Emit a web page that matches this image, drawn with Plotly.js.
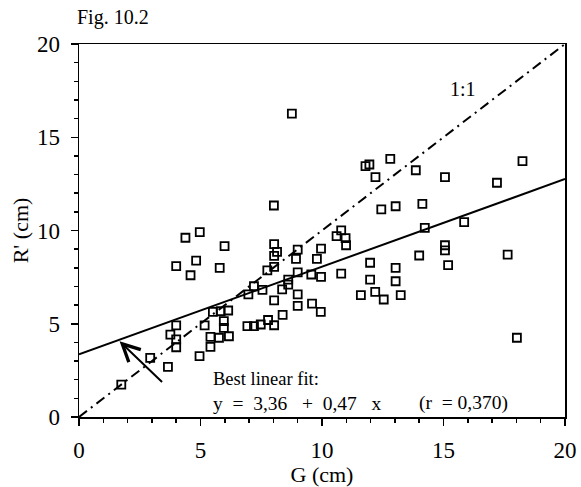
<!DOCTYPE html>
<html><head><meta charset="utf-8">
<script src="https://cdn.plot.ly/plotly-3.0.1.min.js"></script>
<style>html,body{margin:0;padding:0;background:#fff}</style>
</head><body><div id="chart" style="width:581px;height:487px"></div>
<script>
// Observed points: G (cm) vs R' (cm)
const G = [1.74, 2.93, 3.66, 3.76, 4.0, 4.0, 4.0, 4.96, 5.17, 5.41, 5.76, 6.17, 5.41, 5.51, 5.83, 6.14, 5.96, 5.96,
  4.38, 4.97, 5.99, 4.0, 4.82, 4.59, 5.79,
  6.93, 7.2, 7.48, 7.78, 8.03, 8.38, 6.97, 7.2, 7.55, 8.36, 8.61, 8.61, 8.03, 9.0, 9.0, 9.59, 9.95,
  7.75, 8.03, 9.0, 9.56, 9.96, 10.79, 8.03, 8.15, 8.03, 9.0, 8.93, 9.96, 9.79, 8.02, 8.76,
  10.79, 10.6, 10.97, 10.99,
  11.95, 11.79, 12.81, 12.2, 13.86, 15.06, 18.25, 17.2, 12.44, 13.03, 14.13, 14.23, 15.85, 15.06, 15.06,
  14.0, 17.64, 15.19, 11.98, 13.03, 11.98, 13.03, 11.6, 12.19, 12.54, 13.24, 18.02];
const R = [1.74, 3.17, 2.69, 4.42, 4.91, 4.16, 3.74, 3.26, 4.91, 4.3, 4.25, 4.33, 3.76, 5.64, 5.67, 5.71, 5.14, 4.78,
  9.61, 9.91, 9.16, 8.09, 8.39, 7.6, 8.0,
  4.87, 4.87, 4.96, 5.2, 4.92, 5.48, 6.57, 7.01, 6.82, 6.84, 7.1, 7.37, 6.25, 6.57, 5.96, 6.08, 5.64,
  7.86, 8.05, 7.75, 7.64, 7.51, 7.69, 9.27, 8.85, 8.64, 8.97, 8.48, 9.03, 8.48, 11.34, 16.27,
  10.01, 9.7, 9.59, 9.21,
  13.54, 13.45, 13.84, 12.86, 13.23, 12.86, 13.72, 12.56, 11.13, 11.3, 11.43, 10.14, 10.45, 9.21, 8.93,
  8.66, 8.71, 8.14, 8.27, 8.0, 7.37, 7.28, 6.53, 6.71, 6.3, 6.53, 4.25];

// Best linear fit y = 3.36 + 0.47 x, drawn across the axis range
const fitX = [0, 20];
const fitY = [3.36, 12.76];
// 1:1 line
const oneX = [0, 20];
const oneY = [0, 20];
// arrow pointing at the fit line
const arrowTail = [3.48, 1.8];
const arrowHead = [1.67, 4.06];

const tickVals = [0, 5, 10, 15, 20];
const tickText = ['0', '5', '10', '15', '20'];

const font = 'Liberation Serif, Times New Roman, serif';
const sp = '&nbsp;';

const traces = [
  {x: oneX, y: oneY, mode: 'lines', line: {color: 'black', width: 2, dash: '10px,5px,2px,5px'}, hoverinfo: 'skip'},
  {x: fitX, y: fitY, mode: 'lines', line: {color: 'black', width: 2}, hoverinfo: 'skip'},
  {x: G, y: R, mode: 'markers', marker: {symbol: 'square-open', size: 8, color: 'black', line: {width: 1.8, color: 'black'}}}
];

const axisBase = {
  range: [0, 20], tickvals: tickVals, ticktext: tickText,
  showgrid: false, zeroline: false, showline: true, linecolor: 'black', linewidth: 1.5, mirror: true,
  ticks: 'outside', ticklen: 7, tickwidth: 1.5, tickcolor: 'black',
  minor: {dtick: 1, ticks: 'outside', ticklen: 4, tickwidth: 1.5, tickcolor: 'black'},
  tickfont: {family: font, size: 23, color: 'black'}
};

const layout = {
  width: 581, height: 487,
  margin: {l: 79, r: 16, t: 44, b: 70},
  paper_bgcolor: 'white', plot_bgcolor: 'white',
  showlegend: false,
  font: {family: font, color: 'black'},
  title: {text: 'Fig. 10.2', x: 77/581, xanchor: 'left', xref: 'container', y: 1 - 17/487, yanchor: 'middle', yref: 'container',
    font: {family: font, size: 20, color: 'black'}},
  xaxis: Object.assign({}, axisBase, {
    title: {text: 'G (cm)', font: {family: font, size: 22, color: 'black'}, standoff: 0},
    ticklabelstandoff: 5
  }),
  yaxis: Object.assign({}, axisBase, {
    title: {text: "R' (cm)", font: {family: font, size: 22, color: 'black'}, standoff: 2},
    ticklabelstandoff: 6
  }),
  annotations: [
    {x: arrowHead[0], y: arrowHead[1], ax: arrowTail[0], ay: arrowTail[1], xref: 'x', yref: 'y', axref: 'x', ayref: 'y',
      showarrow: true, arrowhead: 5, arrowsize: 1.7, arrowwidth: 2, arrowcolor: 'black', text: ''},
    {x: 15.8, y: 17.6, xref: 'x', yref: 'y', text: '1:1', showarrow: false, font: {family: font, size: 20, color: 'black'}},
    {x: 5.45, y: 2.02, xref: 'x', yref: 'y', xanchor: 'left', text: 'Best linear fit:', showarrow: false,
      font: {family: font, size: 18.5, color: 'black'}},
    {x: 5.45, y: 0.75, xref: 'x', yref: 'y', xanchor: 'left',
      text: 'y' + sp + sp + '=' + sp + sp + '3,36' + sp + sp + sp + '+' + sp + sp + '0,47' + sp + sp + sp + 'x',
      showarrow: false, font: {family: font, size: 19.5, color: 'black'}},
    {x: 17.74, y: 0.75, xref: 'x', yref: 'y', xanchor: 'right',
      text: '(r' + sp + sp + '=' + sp + '0,370)',
      showarrow: false, font: {family: font, size: 19.5, color: 'black'}}
  ]
};

Plotly.newPlot('chart', traces, layout, {displayModeBar: false, staticPlot: true});
</script>
</body></html>
